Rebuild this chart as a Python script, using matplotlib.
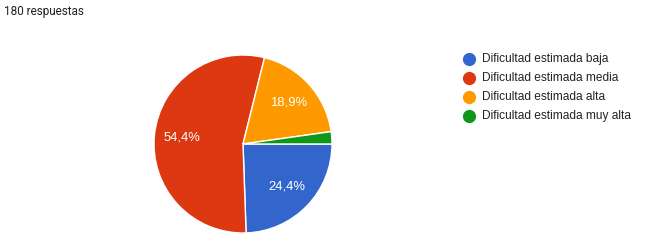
import matplotlib
matplotlib.use("Agg")
import matplotlib.pyplot as plt
from matplotlib.lines import Line2D

# Response counts (180 total)
categories = [
    "Dificultad estimada baja",
    "Dificultad estimada media",
    "Dificultad estimada alta",
    "Dificultad estimada muy alta",
]
counts = [44, 98, 34, 4]
colors = ["#3366cc", "#dc3912", "#ff9900", "#109618"]
total_label = "180 respuestas"

plt.rcParams["font.family"] = ["Liberation Sans", "DejaVu Sans"]

W, H = 651, 247
fig = plt.figure(figsize=(W / 100, H / 100), dpi=100)
fig.patch.set_facecolor("white")

# pie axes placed in pixel terms
cx, cy, r = 243, 144, 89
ax = fig.add_axes([(cx - r) / W, (H - cy - r) / H, 2 * r / W, 2 * r / H])


def pct_fmt(p):
    if p < 5:
        return ""
    return f"{p:.1f}%".replace(".", ",")


wedges, texts, autotexts = ax.pie(
    counts,
    colors=colors,
    startangle=0,
    counterclock=False,
    autopct=pct_fmt,
    pctdistance=0.69,
    radius=1,
    wedgeprops=dict(edgecolor="white", linewidth=1),
    textprops=dict(color="white", fontsize=9.4),
)
ax.set_xlim(-1, 1)
ax.set_ylim(-1, 1)
ax.set_aspect("equal")
ax.axis("off")

fig.text(4 / W, 1 - 12 / H, total_label, fontsize=8.5, color="#202124",
         ha="left", va="center", family=["Roboto", "DejaVu Sans"])

# legend, drawn by hand to match Google Forms layout
lx, ly0, step = 469, 59, 19
for i, (name, col) in enumerate(zip(categories, colors)):
    y = 1 - (ly0 + i * step) / H
    fig.add_artist(Line2D([lx / W], [y], marker="o", markersize=8.5,
                          color=col, linestyle="none",
                          transform=fig.transFigure))
    fig.text((lx + 13) / W, y, name, fontsize=8.6, color="#222222",
             ha="left", va="center")

fig.savefig("out.png", dpi=100, facecolor="white")
